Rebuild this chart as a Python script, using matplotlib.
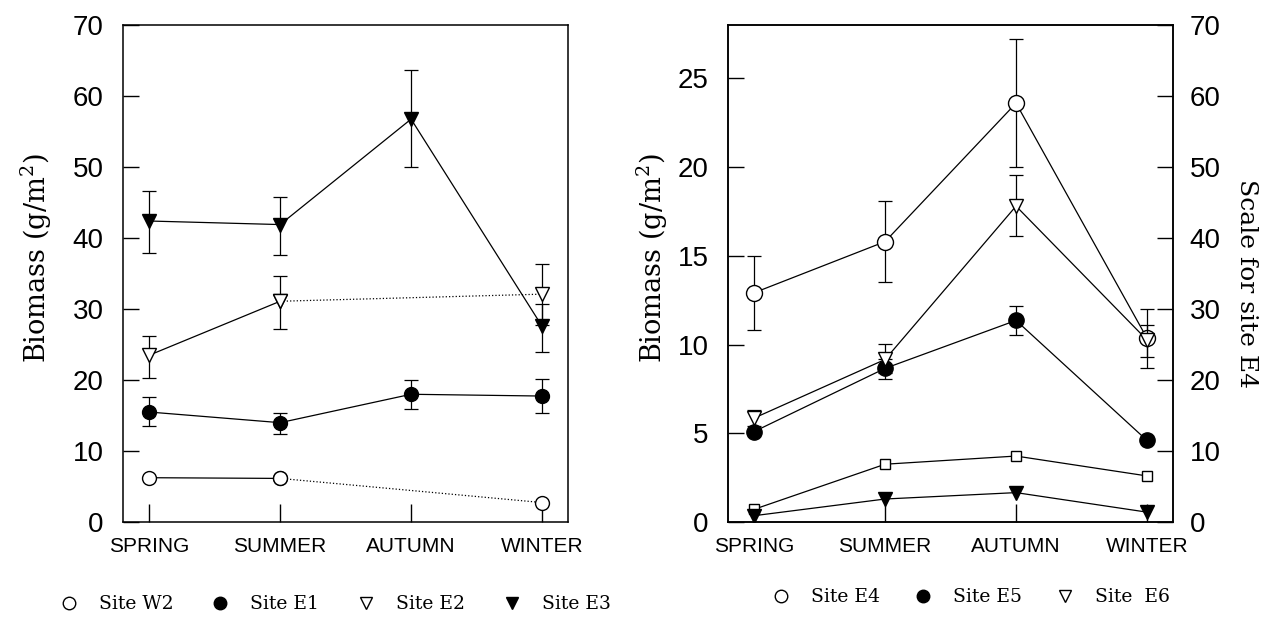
import numpy as np
import matplotlib
matplotlib.use("Agg")
import matplotlib.pyplot as plt
from matplotlib.lines import Line2D

seasons = ["SPRING", "SUMMER", "AUTUMN", "WINTER"]
nan = np.nan

# left panel (g/m2)
w2 = [6.25, 6.15, nan, 2.75]
e1 = [15.5, 14.0, 18.0, 17.75]
e1_lo = [13.5, 12.4, 15.9, 15.4]
e1_hi = [17.6, 15.4, 20.0, 20.1]
e2 = [23.5, 31.1, nan, 32.1]
e2_lo = [20.35, 27.25, nan, 27.8]
e2_hi = [26.25, 34.6, nan, 36.4]
e3 = [42.4, 41.9, 56.75, 27.6]
e3_lo = [37.85, 37.6, 50.0, 23.9]
e3_hi = [46.6, 45.85, 63.6, 30.75]

# right panel, left scale
e5 = [5.1, 8.66, 11.36, 4.6]
e5_lo = [5.1, 8.06, 10.56, 4.6]
e5_hi = [5.1, 9.2, 12.16, 4.6]
e6 = [5.86, 9.16, 17.8, 10.26]
e6_lo = [5.4, 8.4, 16.12, 9.3]
e6_hi = [6.3, 10.06, 19.56, 11.1]
sq = [0.72, 3.26, 3.72, 2.6]
tri = [0.36, 1.3, 1.66, 0.56]
# site E4, right scale
e4 = [32.3, 39.5, 59.0, 25.9]
e4_lo = [27.0, 33.8, 50.0, 21.75]
e4_hi = [37.5, 45.2, 68.1, 30.0]

x = np.arange(len(seasons))
LW = 0.9
TICKFONT = "Liberation Sans"
SERIF = "DejaVu Serif"


def errs(ax, y, lo, hi):
    y, lo, hi = np.array(y), np.array(lo), np.array(hi)
    ax.errorbar(x, y, yerr=[y - lo, hi - y], fmt="none", ecolor="k",
                elinewidth=LW, capsize=5, capthick=LW, zorder=2)


def line(ax, xs, y, marker, fill, ms, ls="-"):
    ax.plot(xs, y, color="k", lw=LW, ls=ls, marker=marker, ms=ms, mfc=fill,
            mec="k", mew=1.0, zorder=3)


def style(ax, yticks, ylim):
    ax.set_xlim(-0.2, 3.2)
    ax.set_ylim(*ylim)
    ax.set_xticks(x)
    ax.set_xticklabels(seasons, fontfamily=TICKFONT, fontsize=15)
    ax.set_yticks(yticks)
    ax.set_yticklabels([str(t) for t in yticks], fontfamily=TICKFONT, fontsize=20)
    ax.tick_params(axis="x", direction="in", length=13, width=1.0, pad=11)
    ax.tick_params(axis="y", direction="in", length=11.5, width=1.0, pad=14)
    for s in ax.spines.values():
        s.set_linewidth(1.1)


fig = plt.figure(figsize=(12.72, 6.26), dpi=100)
ax1 = fig.add_axes([0.0967, 0.166, 0.350, 0.794])
ax2 = fig.add_axes([0.5723, 0.166, 0.350, 0.794])
ax2r = ax2.twinx()
# keep the E4 scale underneath the other sites
ax2r.set_zorder(ax2.get_zorder() - 1)
ax2.patch.set_visible(False)
ax2r.patch.set_visible(True)
ax2r.patch.set_facecolor("white")

# ---- left panel
errs(ax1, e1, e1_lo, e1_hi)
errs(ax1, e2, e2_lo, e2_hi)
errs(ax1, e3, e3_lo, e3_hi)
line(ax1, x[:2], w2[:2], "o", "white", 10)
line(ax1, [x[1], x[3]], [w2[1], w2[3]], "o", "white", 10, ls=":")
line(ax1, x, e1, "o", "black", 10)
line(ax1, x[:2], e2[:2], "v", "white", 10)
line(ax1, [x[1], x[3]], [e2[1], e2[3]], "v", "white", 10, ls=":")
line(ax1, x, e3, "v", "black", 10)
style(ax1, list(range(0, 71, 10)), (0, 70))
ax1.set_ylabel(r"Biomass (g/m$^{\mathregular{2}}$)", fontfamily=SERIF, fontsize=19.5)
ax1.yaxis.set_label_coords(-0.155, 0.53)

# ---- right panel
errs(ax2, e5, e5_lo, e5_hi)
errs(ax2, e6, e6_lo, e6_hi)
line(ax2, x, sq, "s", "white", 7.5)
line(ax2, x, tri, "v", "black", 10)
line(ax2, x, e5, "o", "black", 11)
line(ax2, x, e6, "v", "white", 10)
style(ax2, list(range(0, 26, 5)), (0, 28))
ax2.set_ylabel(r"Biomass (g/m$^{\mathregular{2}}$)", fontfamily=SERIF, fontsize=19.5)
ax2.yaxis.set_label_coords(-0.13, 0.53)

errs(ax2r, e4, e4_lo, e4_hi)
line(ax2r, x, e4, "o", "white", 11.5)
ax2r.set_ylim(0, 70)
ax2r.set_yticks(list(range(0, 71, 10)))
ax2r.set_yticklabels([str(t) for t in range(0, 71, 10)], fontfamily=TICKFONT, fontsize=20)
ax2r.tick_params(axis="y", direction="in", length=11.5, width=1.0, pad=12)
ax2r.set_ylabel("Scale for site E4", fontfamily=SERIF, fontsize=18,
                rotation=-90, va="bottom")
ax2r.yaxis.set_label_coords(1.14, 0.48)
for s in ax2r.spines.values():
    s.set_linewidth(1.1)

# ---- legends
leg_font = {"family": SERIF, "size": 13.5}


def handle(marker, fill, ms=9):
    return Line2D([], [], ls="none", marker=marker, ms=ms, mfc=fill, mec="k", mew=1.0)


ax1.legend([handle("o", "white"), handle("o", "black"), handle("v", "white"),
            handle("v", "black")],
           ["Site W2", "Site E1", "Site E2", "Site E3"],
           loc="center", bbox_to_anchor=(0.476, -0.165), ncol=4, frameon=False,
           prop=leg_font, handlelength=1.0, handletextpad=1.1, columnspacing=2.0,
           borderpad=0)
ax2.legend([handle("o", "white"), handle("o", "black"), handle("v", "white")],
           ["Site E4", "Site E5", "Site  E6"],
           loc="center", bbox_to_anchor=(0.546, -0.151), ncol=3, frameon=False,
           prop=leg_font, handlelength=1.0, handletextpad=1.1, columnspacing=1.8,
           borderpad=0)

fig.savefig("out.png", dpi=100)
